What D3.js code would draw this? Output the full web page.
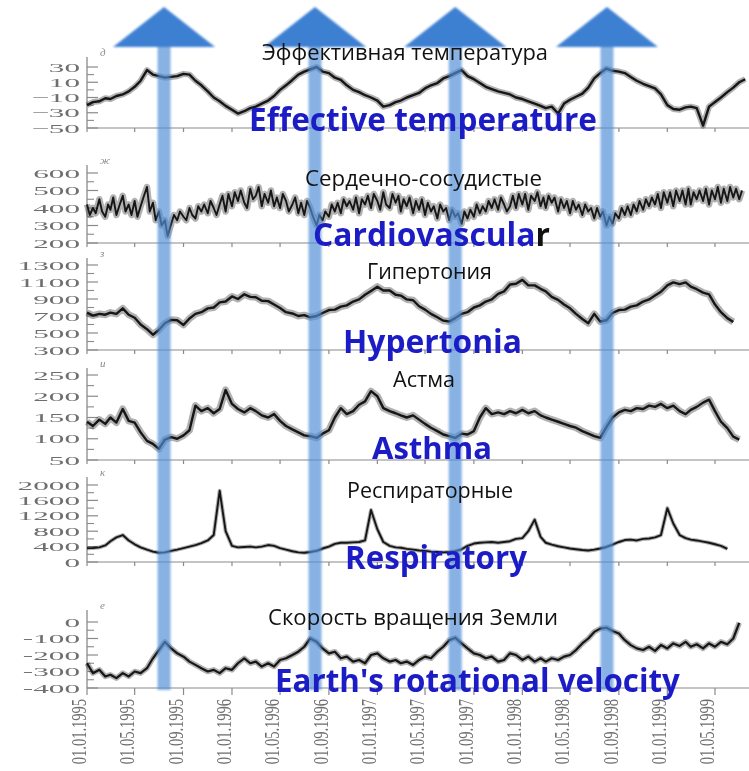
<!DOCTYPE html>
<html>
<head>
<meta charset="utf-8">
<script src="https://cdn.jsdelivr.net/npm/d3@7"></script>
<style>
  body { margin: 0; background: #fff; }
  svg { display: block; }
</style>
</head>
<body>
<svg id="chart" width="749" height="771"></svg>
<script>
// ---- data ----
const TITLES_RU = ["Эффективная температура", "Сердечно-сосудистые", "Гипертония",
                   "Астма", "Респираторные", "Скорость вращения Земли"];
const TITLES_EN = ["Effective temperature", "Cardiovascular", "Hypertonia",
                   "Asthma", "Respiratory", "Earth's rotational velocity"];
const PANEL_LETTERS = ["д", "ж", "з", "и", "к", "е"];

const TICK_DATES = ["01.01.1995", "01.05.1995", "01.09.1995", "01.01.1996", "01.05.1996",
                    "01.09.1996", "01.01.1997", "01.05.1997", "01.09.1997", "01.01.1998",
                    "01.05.1998", "01.09.1998", "01.01.1999", "01.05.1999"];
const ARROW_DATES = ["14.07.1995", "28.07.1996", "16.07.1997", "02.08.1998"];

const TEMP_TICKS = [30, 10, -10, -30, -50];
const CARDIO_TICKS = [600, 500, 400, 300, 200];
const HYPER_TICKS = [1300, 1100, 900, 700, 500, 300];
const ASTHMA_TICKS = [250, 200, 150, 100, 50];
const RESP_TICKS = [2000, 1600, 1200, 800, 400, 0];
const EARTH_TICKS = [0, -100, -200, -300, -400];

// twice a month (1st and 16th), from 01.01.1995
const TEMP = [-20, -16, -15, -11, -12, -8, -6, -2, 4, 12,
  26, 20, 18, 16, 17, 18, 21, 20, 12, 6,
  -2, -10, -15, -21, -26, -31, -28, -24, -22, -18,
  -14, -8, 0, 6, 13, 20, 24, 27, 30, 24,
  22, 16, 13, 6, 0, -3, -7, -10, -14, -22,
  -20, -16, -14, -10, -7, -4, 2, 6, 9, 15,
  18, 22, 26, 18, 14, 9, 4, 1, -2, -4,
  -6, -10, -12, -15, -18, -21, -24, -22, -31, -18,
  -13, -9, -5, 3, 15, 22, 28, 25, 24, 22,
  17, 12, 8, 5, 2, -6, -20, -25, -26, -23,
  -22, -24, -47, -22, -16, -10, -3, 3, 10, 14];

// four times a month (1st, 8th, 16th, 23rd)
const CARDIO = [420, 360, 400, 370, 450, 380, 350, 420, 390, 460, 360, 410,
  470, 380, 420, 360, 440, 350, 410, 460, 520, 380, 430, 330,
  380, 300, 330, 240, 310, 360, 330, 380, 350, 330, 400, 360,
  340, 410, 380, 420, 370, 440, 400, 360, 420, 470, 380, 480,
  410, 490, 440, 500, 430, 400, 510, 450, 470, 520, 410, 480,
  430, 500, 410, 460, 400, 480, 440, 380, 420, 460, 370, 430,
  360, 440, 400, 350, 300, 360, 330, 380, 350, 420, 380, 430,
  370, 450, 410, 440, 390, 460, 370, 450, 420, 470, 400, 480,
  440, 390, 490, 420, 400, 480, 430, 470, 380, 450, 410, 460,
  370, 440, 390, 450, 360, 430, 380, 410, 340, 420, 380, 400,
  330, 390, 350, 370, 310, 380, 340, 390, 350, 420, 370, 410,
  380, 440, 400, 450, 390, 460, 420, 380, 410, 470, 400, 480,
  420, 480, 390, 470, 440, 490, 410, 460, 400, 470, 430, 460,
  380, 450, 400, 440, 370, 440, 390, 420, 360, 420, 380, 400,
  340, 400, 350, 380, 300, 350, 310, 370, 340, 400, 360, 410,
  360, 420, 380, 440, 390, 450, 410, 460, 420, 480, 400, 490,
  430, 490, 410, 500, 440, 500, 420, 510, 420, 490, 450, 500,
  440, 510, 420, 500, 450, 520, 430, 510, 440, 520, 460, 510,
  450, 500];

const HYPER = [740, 705, 725, 715, 740, 725, 790, 715, 680, 600,
  545, 480, 535, 615, 655, 650, 595, 670, 725, 745,
  790, 800, 860, 870, 930, 900, 955, 925, 920, 880,
  875, 835, 795, 745, 730, 700, 710, 685, 700, 735,
  770, 775, 810, 825, 870, 895, 950, 995, 1045, 1000,
  1000, 950, 940, 895, 885, 815, 775, 725, 685, 645,
  635, 675, 725, 745, 800, 825, 870, 895, 960, 990,
  1070, 1080, 1125, 1060, 1060, 1020, 990, 925, 890, 835,
  790, 725, 665, 615, 725, 635, 650, 735, 770, 775,
  810, 825, 870, 895, 940, 985, 1060, 1095, 1075, 1095,
  1045, 1015, 975, 955, 835, 745, 675, 630];

const ASTHMA = [140, 130, 145, 135, 150, 138, 170, 142, 138, 115,
  95, 88, 76, 98, 104, 100, 108, 120, 178, 165,
  172, 160, 170, 215, 182, 170, 162, 172, 165, 155,
  150, 158, 142, 130, 122, 115, 108, 106, 102, 112,
  120, 150, 172, 158, 165, 180, 188, 212, 200, 172,
  165, 160, 155, 150, 155, 145, 135, 126, 118, 110,
  106, 102, 112, 110, 118, 150, 172, 158, 162, 158,
  165, 160, 168, 160, 165, 155, 150, 145, 140, 135,
  130, 126, 118, 112, 106, 102, 128, 150, 162, 168,
  165, 172, 170, 178, 175, 182, 172, 178, 165, 158,
  168, 175, 185, 192, 165, 140, 125, 105, 98];

const RESP = [360, 365, 380, 430, 540, 640, 700, 560, 460, 380,
  320, 270, 240, 250, 290, 320, 360, 400, 440, 490,
  560, 700, 1850, 800, 420, 380, 390, 400, 380, 400,
  440, 420, 360, 320, 280, 250, 240, 260, 290, 350,
  400, 470, 500, 500, 510, 520, 560, 1350, 850, 520,
  420, 380, 370, 340, 320, 300, 290, 270, 260, 250,
  260, 280, 330, 420, 480, 500, 510, 520, 500, 520,
  540, 600, 620, 800, 1100, 650, 500, 450, 410, 380,
  350, 330, 310, 300, 320, 350, 390, 450, 520, 570,
  580, 560, 600, 610, 640, 700, 1400, 1000, 700, 620,
  580, 560, 530, 500, 460, 420, 340];

const EARTH = [-250, -310, -290, -330, -320, -340, -310, -330, -300, -310,
  -280, -220, -170, -120, -160, -190, -210, -240, -260, -280,
  -300, -290, -310, -280, -290, -250, -220, -250, -240, -270,
  -250, -270, -230, -220, -200, -180, -150, -100, -120, -160,
  -190, -180, -220, -210, -240, -230, -250, -200, -190, -220,
  -240, -230, -250, -240, -260, -230, -210, -220, -180, -150,
  -110, -95, -130, -160, -190, -200, -220, -210, -240, -230,
  -190, -200, -230, -210, -240, -220, -240, -220, -230, -210,
  -200, -170, -130, -100, -60, -40, -35, -55, -70, -110,
  -140, -160, -170, -150, -175, -140, -160, -130, -145, -120,
  -150, -135, -160, -130, -150, -120, -135, -100, -5];

// ---- layout ----
const parse = d3.timeParse("%d.%m.%Y");
const svg = d3.select("#chart");
const AXIS_X = 87;
const RIGHT = 749;

const x = d3.scaleTime()
  .domain([parse(TICK_DATES[0]), parse(TICK_DATES[TICK_DATES.length - 1])])
  .range([AXIS_X, 715]);

function halfMonthDates(n) {
  return d3.range(n).map(i => new Date(1995, Math.floor(i / 2), i % 2 ? 16 : 1));
}
function quarterMonthDates(n) {
  return d3.range(n).map(i => new Date(1995, Math.floor(i / 4), [1, 8, 16, 23][i % 4]));
}

const PANELS = [
  {values: TEMP, ticks: TEMP_TICKS, dates: halfMonthDates, minus: "\u2212",
   bottom: 128, top: 67, axisTop: 57, core: 2.4, halo: 6},
  {values: CARDIO, ticks: CARDIO_TICKS, dates: quarterMonthDates, minus: "-",
   bottom: 243, top: 173, axisTop: 165, core: 1.9, halo: 6.5},
  {values: HYPER, ticks: HYPER_TICKS, dates: halfMonthDates, minus: "-",
   bottom: 350, top: 265, axisTop: 258, core: 2.4, halo: 7},
  {values: ASTHMA, ticks: ASTHMA_TICKS, dates: halfMonthDates, minus: "-",
   bottom: 460, top: 375, axisTop: 368, core: 2.4, halo: 7},
  {values: RESP, ticks: RESP_TICKS, dates: halfMonthDates, minus: "-",
   bottom: 562, top: 485, axisTop: 477, core: 1.9, halo: 4},
  {values: EARTH, ticks: EARTH_TICKS, dates: halfMonthDates, minus: "-",
   bottom: 688, top: 622, axisTop: 610, core: 2.2, halo: 5.5}
];

// [left, right, baseline] for the overlaid captions
const RU_BOX = [[262, 548, 60], [305, 542, 186], [367, 492, 279],
                [393, 455, 387], [347, 513, 498], [268, 558, 625]];
const EN_BOX = [[249, 597, 131], [313, 550, 246], [343, 522, 353],
                [372, 492, 459], [345, 527, 569], [275, 680, 692]];

let defs = svg.append("defs");
defs.append("filter").attr("id", "soft")
  .append("feGaussianBlur").attr("stdDeviation", 0.55);
defs.append("filter").attr("id", "softer")
  .attr("x", "-20%").attr("y", "-20%").attr("width", "140%").attr("height", "140%")
  .append("feGaussianBlur").attr("stdDeviation", 1.3);

svg.append("rect").attr("width", 749).attr("height", 771).attr("fill", "#fff");

let chart = svg.append("g").attr("filter", "url(#soft)");

PANELS.forEach((p, k) => {
  let ext = d3.extent(p.ticks);
  let y = d3.scaleLinear().domain(ext).range([p.bottom, p.top]);
  let g = chart.append("g").attr("class", "panel");

  // vertical axis
  g.append("line")
    .attr("x1", AXIS_X).attr("x2", AXIS_X)
    .attr("y1", p.axisTop).attr("y2", p.bottom)
    .attr("stroke", "#8a8a8a").attr("stroke-width", 1.3);

  let sorted = p.ticks.slice().sort(d3.ascending);
  let minor = d3.range(sorted.length - 1).map(i => (sorted[i] + sorted[i + 1]) / 2);

  g.selectAll(".major").data(p.ticks).enter().append("line")
    .attr("x1", AXIS_X).attr("x2", AXIS_X + 11)
    .attr("y1", d => y(d)).attr("y2", d => y(d))
    .attr("stroke", "#8a8a8a").attr("stroke-width", 1.2);
  g.selectAll(".minor").data(minor).enter().append("line")
    .attr("x1", AXIS_X).attr("x2", AXIS_X + 7)
    .attr("y1", d => y(d)).attr("y2", d => y(d))
    .attr("stroke", "#8a8a8a").attr("stroke-width", 1.1);

  g.selectAll(".ylab").data(p.ticks).enter().append("text")
    .attr("transform", d => `translate(80,${y(d) + 4.5}) scale(2.5,1)`)
    .attr("text-anchor", "end")
    .attr("font-family", "'Liberation Serif', 'DejaVu Serif', serif")
    .attr("font-size", 12.5)
    .attr("fill", "#6e6e6e")
    .text(d => d < 0 ? p.minus + Math.abs(d) : d);

  // panel letter
  g.append("text")
    .attr("x", AXIS_X + 13).attr("y", p.axisTop - 1)
    .attr("font-family", "'Liberation Serif', serif").attr("font-style", "italic")
    .attr("font-size", 11).attr("fill", "#8a8a8a")
    .text(PANEL_LETTERS[k]);

  // horizontal axis
  g.append("line")
    .attr("x1", AXIS_X).attr("x2", RIGHT)
    .attr("y1", p.bottom).attr("y2", p.bottom)
    .attr("stroke", "#8a8a8a").attr("stroke-width", 1.2);
  g.selectAll(".xtick").data(TICK_DATES).enter().append("line")
    .attr("x1", d => x(parse(d))).attr("x2", d => x(parse(d)))
    .attr("y1", p.bottom).attr("y2", p.bottom + (k === PANELS.length - 1 ? 7 : 4))
    .attr("stroke", "#8a8a8a").attr("stroke-width", 1.2);

  // series
  let dates = p.dates(p.values.length);
  let pts = p.values.map((v, i) => ({date: dates[i], v: v}));
  let line = d3.line().x(d => x(d.date)).y(d => y(d.v));
  g.append("path").datum(pts)
    .attr("d", line).attr("fill", "none")
    .attr("stroke", "#333").attr("stroke-opacity", 0.38)
    .attr("stroke-width", p.halo).attr("stroke-linejoin", "round");
  g.append("path").datum(pts)
    .attr("d", line).attr("fill", "none")
    .attr("stroke", "#161616").attr("stroke-width", p.core)
    .attr("stroke-linejoin", "round");
});

// date labels under the last panel
let last = PANELS[PANELS.length - 1];
chart.selectAll(".xlab").data(TICK_DATES).enter().append("text")
  .attr("transform", d => `translate(${x(parse(d)) - 1},${last.bottom + 11}) scale(1.45,1) rotate(-90)`)
  .attr("text-anchor", "end")
  .attr("font-family", "'Liberation Serif', 'DejaVu Serif', serif")
  .attr("font-size", 14.5)
  .attr("fill", "#6e6e6e")
  .text(d => d);

// blue arrows
let arrows = svg.append("g").attr("filter", "url(#softer)");
arrows.selectAll(".shaft").data(ARROW_DATES).enter().append("rect")
  .attr("x", d => x(parse(d)) - 6.5).attr("width", 13)
  .attr("y", 44).attr("height", 690 - 44)
  .attr("fill", "#4d8dd6").attr("fill-opacity", 0.68);
arrows.selectAll(".head").data(ARROW_DATES).enter().append("path")
  .attr("d", d => {
    let cx = x(parse(d));
    return `M${cx - 51},47 L${cx},7 L${cx + 51},47 Z`;
  })
  .attr("fill", "#3d80d2");

// captions
function fitCaption(sel, box) {
  let w = sel.node().getComputedTextLength();
  let fs = 20 * (box[1] - box[0]) / w;
  sel.attr("font-size", fs).attr("x", (box[0] + box[1]) / 2).attr("y", box[2]);
}

let caps = svg.append("g");
TITLES_RU.forEach((t, k) => {
  let s = caps.append("text")
    .attr("text-anchor", "middle")
    .attr("font-family", "'Open Sans', 'Noto Sans', sans-serif")
    .attr("font-size", 20).attr("fill", "#111")
    .text(t);
  fitCaption(s, RU_BOX[k]);
});
TITLES_EN.forEach((t, k) => {
  let s = caps.append("text")
    .attr("text-anchor", "middle")
    .attr("font-family", "'Open Sans', 'Noto Sans', sans-serif")
    .attr("font-weight", 700)
    .attr("font-size", 20).attr("fill", "#1c1cc6");
  if (t === "Cardiovascular") {
    // the last letter is black in the source slide
    s.append("tspan").text(t.slice(0, -1));
    s.append("tspan").attr("fill", "#111").text(t.slice(-1));
  } else {
    s.text(t);
  }
  fitCaption(s, EN_BOX[k]);
});
</script>
</body>
</html>
